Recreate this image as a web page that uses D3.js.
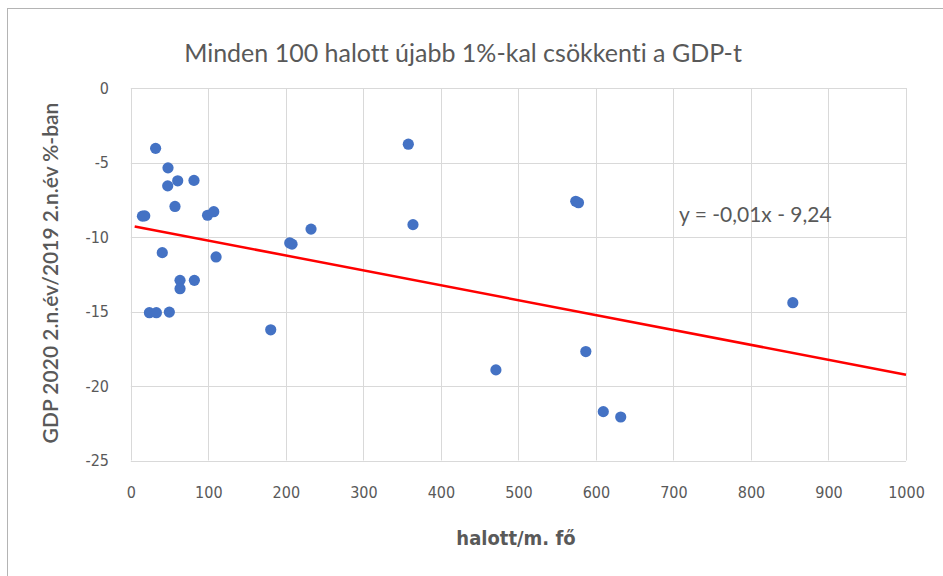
<!DOCTYPE html>
<html>
<head>
<meta charset="utf-8">
<script src="https://cdn.jsdelivr.net/npm/d3@7"></script>
<style>
  html, body { margin: 0; padding: 0; background: #fff; }
  text { fill: #595959; font-variant-ligatures: none; }
</style>
</head>
<body>
<div id="chart"></div>
<script>
// halott / millió fő (x) és GDP változás %-ban (y)
var deaths = [32, 48, 60.5, 81.5, 47.6, 57, 15, 18, 99, 107, 40.6, 110, 63.5, 63.5, 82,
              24, 33, 49.7, 180.5, 205, 208, 232.5, 358, 364, 574, 577.5, 471, 587, 609.5, 632, 854];
var gdpChange = [-4.05, -5.36, -6.23, -6.2, -6.57, -7.95, -8.6, -8.58, -8.54, -8.3, -11.05, -11.34, -12.91, -13.47, -12.91,
                 -15.08, -15.08, -15.04, -16.23, -10.4, -10.48, -9.47, -3.77, -9.17, -7.6, -7.7, -18.92, -17.69, -21.72, -22.08, -14.41];
var xTicks = [0, 100, 200, 300, 400, 500, 600, 700, 800, 900, 1000];
var yTicks = [0, -5, -10, -15, -20, -25];
var trendSlope = -0.01;
var trendIntercept = -9.24;
var trendRange = [5, 1000];

var width = 943, height = 576;
var font = "'Liberation Sans Narrow', 'DejaVu Sans Condensed', sans-serif";

var svg = d3.select("#chart").append("svg")
    .attr("width", width)
    .attr("height", height);

// chart frame
svg.append("rect")
    .attr("x", 7.5).attr("y", 8.5)
    .attr("width", 1000).attr("height", 1000)
    .attr("fill", "none")
    .attr("stroke", "#b4b4b4");

var x = d3.scaleLinear().domain([0, 1000]).range([130.8, 906]);
var y = d3.scaleLinear().domain([0, -25]).range([88, 460.5]);

// gridlines
svg.append("g").selectAll("line")
    .data(xTicks).enter().append("line")
    .attr("x1", function (d) { return Math.round(x(d)) + 0.5; })
    .attr("x2", function (d) { return Math.round(x(d)) + 0.5; })
    .attr("y1", y(0)).attr("y2", y(-25))
    .attr("stroke", "#d9d9d9");

svg.append("g").selectAll("line")
    .data(yTicks).enter().append("line")
    .attr("y1", function (d) { return Math.round(y(d)) + 0.5; })
    .attr("y2", function (d) { return Math.round(y(d)) + 0.5; })
    .attr("x1", x(0)).attr("x2", x(1000))
    .attr("stroke", "#d9d9d9");

// axes (labels only)
var xAxis = svg.append("g")
    .attr("transform", "translate(0,487)")
    .call(d3.axisBottom(x).tickValues(xTicks).tickSize(0).tickFormat(function (d) { return String(d); }));
var yAxis = svg.append("g")
    .attr("transform", "translate(109,0)")
    .call(d3.axisLeft(y).tickValues(yTicks).tickSize(0).tickFormat(function (d) { return String(d); }));
[xAxis, yAxis].forEach(function (a) {
    a.select(".domain").remove();
    a.selectAll("text")
        .attr("fill", "#595959")
        .style("font-family", font)
        .style("font-size", "16px");
});
xAxis.selectAll("text").attr("dy", "0.71em").attr("y", 0);
yAxis.selectAll("text").attr("x", 0);

// points
svg.append("g").selectAll("circle")
    .data(deaths).enter().append("circle")
    .attr("cx", function (d) { return x(d); })
    .attr("cy", function (d, i) { return y(gdpChange[i]); })
    .attr("r", 5.6)
    .attr("fill", "#4472c4");

// trendline
svg.append("line")
    .attr("x1", x(trendRange[0]))
    .attr("y1", y(trendSlope * trendRange[0] + trendIntercept))
    .attr("x2", x(trendRange[1]))
    .attr("y2", y(trendSlope * trendRange[1] + trendIntercept))
    .attr("stroke", "#ff0000")
    .attr("stroke-width", 2.5);

svg.append("text")
    .attr("x", 679).attr("y", 222)
    .style("font-family", "Lato, 'Open Sans', sans-serif")
    .style("font-size", "21px")
    .text("y = -0,01x - 9,24");

// titles
svg.append("text")
    .attr("x", 463).attr("y", 62)
    .attr("text-anchor", "middle")
    .style("font-family", "Lato, 'Open Sans', sans-serif")
    .style("font-size", "25px")
    .text("Minden 100 halott újabb 1%-kal csökkenti a GDP-t");

svg.append("text")
    .attr("transform", "translate(58,273) rotate(-90)")
    .attr("text-anchor", "middle")
    .style("font-family", "Lato, 'Open Sans', sans-serif")
    .style("font-size", "21px")
    .style("font-weight", "600")
    .text("GDP 2020 2.n.év/2019 2.n.év %-ban");

svg.append("text")
    .attr("x", 516).attr("y", 545)
    .attr("text-anchor", "middle")
    .style("font-family", font)
    .style("font-size", "20px")
    .style("font-weight", "bold")
    .text("halott/m. fő");
</script>
</body>
</html>
